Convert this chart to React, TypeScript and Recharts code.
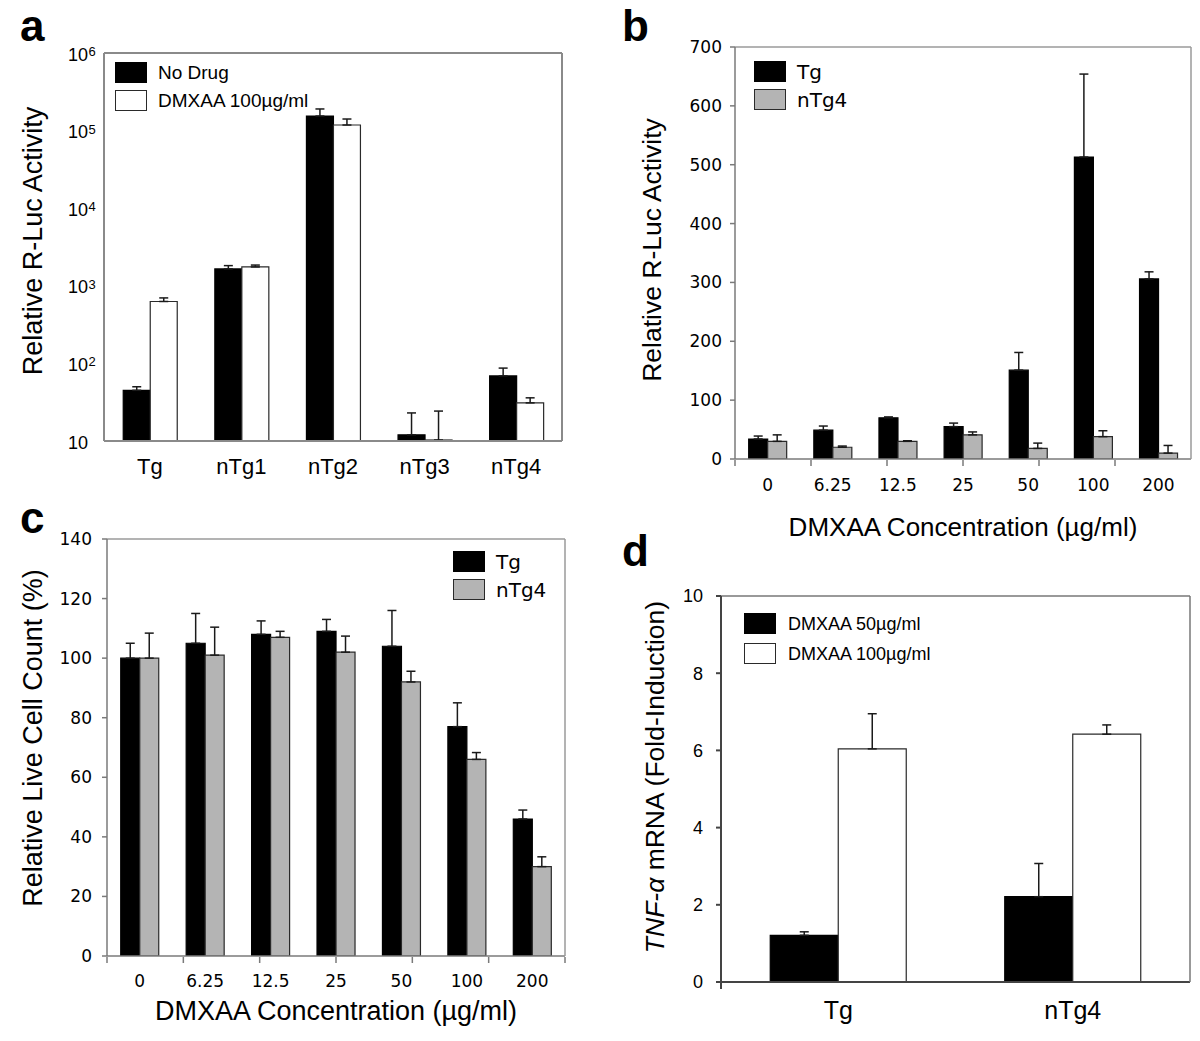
import React from "react";
import { BarChart, Bar, XAxis, YAxis, ErrorBar, Legend, Label } from "recharts";

const ARIAL = "'Liberation Sans', Arial, sans-serif";
const VERDANA = "'DejaVu Sans', Verdana, sans-serif";

// ---- panel a: R-Luc activity per line (log scale)
const lineNames = ["Tg", "nTg1", "nTg2", "nTg3", "nTg4"];
const noDrug = [45, 1650, 154000, 12, 69];
const noDrugSd = [5, 170, 36000, 11, 18];
const dmxaa100 = [628, 1750, 118000, 10.3, 31];
const dmxaa100Sd = [70, 100, 23000, 14, 5];
const logTicks = [10, 100, 1000, 10000, 100000, 1000000];

// ---- panels b & c: dose response
const concentrations = ["0", "6.25", "12.5", "25", "50", "100", "200"];
const lucTg = [34, 49, 70, 55, 151, 513, 306];
const lucTgSd = [5, 7, 1.5, 6, 30, 141, 12];
const lucNTg4 = [30, 20, 30, 41, 18, 38, 10];
const lucNTg4Sd = [11, 2, 1, 5, 9, 10, 13];
const lucTicks = [0, 100, 200, 300, 400, 500, 600, 700];

const liveTg = [100, 105, 108, 109, 104, 77, 46];
const liveTgSd = [5, 10, 4.5, 4, 12, 8, 3];
const liveNTg4 = [100, 101, 107, 102, 92, 66, 30];
const liveNTg4Sd = [8.4, 9.4, 2, 5.4, 3.6, 2.3, 3.3];
const liveTicks = [0, 20, 40, 60, 80, 100, 120, 140];

// ---- panel d: TNF-alpha induction
const tnfGroups = ["Tg", "nTg4"];
const tnf50 = [1.21, 2.21];
const tnf50Sd = [0.09, 0.86];
const tnf100 = [6.04, 6.42];
const tnf100Sd = [0.91, 0.24];
const tnfTicks = [0, 2, 4, 6, 8, 10];

type Row = Record<string, string | number | number[]>;

function buildRows(names: string[], series: { key: string; values: number[]; sd: number[] }[]): Row[] {
  return names.map((name, i) => {
    const row: Row = { name };
    series.forEach((s) => {
      row[s.key] = s.values[i];
      row[s.key + "Err"] = [0, s.sd[i]];
    });
    return row;
  });
}

const rowsA = buildRows(lineNames, [
  { key: "noDrug", values: noDrug, sd: noDrugSd },
  { key: "dmxaa", values: dmxaa100, sd: dmxaa100Sd },
]);
const rowsB = buildRows(concentrations, [
  { key: "tg", values: lucTg, sd: lucTgSd },
  { key: "ntg4", values: lucNTg4, sd: lucNTg4Sd },
]);
const rowsC = buildRows(concentrations, [
  { key: "tg", values: liveTg, sd: liveTgSd },
  { key: "ntg4", values: liveNTg4, sd: liveNTg4Sd },
]);
const rowsD = buildRows(tnfGroups, [
  { key: "d50", values: tnf50, sd: tnf50Sd },
  { key: "d100", values: tnf100, sd: tnf100Sd },
]);

const BLACK = { fill: "#000", stroke: "#000" };
const WHITE = { fill: "#fff", stroke: "#2a2a2a" };
const GRAY = { fill: "#b4b4b4", stroke: "#2a2a2a" };

function PowerTick(props: any) {
  const { x, y, payload } = props;
  const exp = Math.round(Math.log10(payload.value));
  return (
    <g>
      <text x={x} y={y} dy={7.5} textAnchor="end" fontFamily={ARIAL} fontSize={18} fill="#000">
        10
      </text>
      {exp > 1 && (
        <text x={x + 0.5} y={y} dy={3} textAnchor="start" fontFamily={ARIAL} fontSize={13} fill="#000">
          {exp}
        </text>
      )}
    </g>
  );
}

function CategoryTick(props: any) {
  const { x, y, payload, font, size, dy } = props;
  return (
    <text x={x} y={y + dy} textAnchor="middle" fontFamily={font} fontSize={size} fill="#000">
      {payload.value}
    </text>
  );
}

const Y_AXIS_W = 60;

interface SeriesStyle {
  key: string;
  name: string;
  fill: string;
  stroke: string;
}

interface PanelProps {
  box: { left: number; top: number; width: number; height: number };
  plot: { l: number; t: number; r: number; b: number };
  rows: Row[];
  series: SeriesStyle[];
  yScale?: "log" | "linear";
  yDomain: [number, number];
  yTicks: number[];
  yTick: any;
  yTickSize: number;
  yTickMargin: number;
  xTick: React.ReactElement;
  axis: { color: string; width: number };
  frame: { color: string; width: number };
  boundaryTicks: boolean;
  legend: { left: number; top: number; font: string; size: number; pitch: number; gap: number };
  yTitle: { x: number; y: number; size: number; content: React.ReactNode };
  xTitle?: { x: number; y: number; size: number; text: string };
}

function Panel(p: PanelProps) {
  const { box, plot } = p;
  const lx = (x: number) => x - box.left;
  const ly = (y: number) => y - box.top;
  // every helper axis is 1px thick (zero-size axes are not drawn)
  const bottomAxes = p.boundaryTicks ? 2 : 1;
  const margin = {
    top: plot.t - box.top - 1,
    bottom: box.top + box.height - plot.b - bottomAxes,
    left: plot.l - box.left - Y_AXIS_W,
    right: box.left + box.width - plot.r - 1,
  };
  const bounds = Array.from({ length: p.rows.length + 1 }, (_, i) => i);
  const axisStroke = { stroke: p.axis.color, strokeWidth: p.axis.width };
  const frameStroke = { stroke: p.frame.color, strokeWidth: p.frame.width };

  return (
    <div style={{ position: "absolute", left: box.left, top: box.top, width: box.width, height: box.height }}>
      <BarChart width={box.width} height={box.height} data={p.rows} margin={margin} barCategoryGap="21%" barGap={0}>
        <XAxis
          dataKey="name"
          height={1}
          tickSize={0}
          tickMargin={0}
          tickLine={false}
          interval={0}
          stroke={p.axis.color}
          axisLine={axisStroke}
          tick={p.xTick}
        >
          {p.xTitle && (
            <Label
              content={() => (
                <text
                  x={lx(p.xTitle!.x)}
                  y={ly(p.xTitle!.y)}
                  textAnchor="middle"
                  fontFamily={ARIAL}
                  fontSize={p.xTitle!.size}
                  fill="#000"
                >
                  {p.xTitle!.text}
                </text>
              )}
            />
          )}
        </XAxis>
        {p.boundaryTicks && (
          <XAxis
            xAxisId="bounds"
            type="number"
            domain={[0, p.rows.length]}
            ticks={bounds}
            allowDataOverflow
            height={1}
            stroke={p.axis.color}
            axisLine={false}
            tickLine={axisStroke}
            tickSize={6}
            tick={() => <g />}
          />
        )}
        <XAxis
          xAxisId="top"
          orientation="top"
          type="number"
          domain={[0, 1]}
          ticks={[0, 1]}
          allowDataOverflow
          height={1}
          stroke={p.frame.color}
          tick={() => <g />}
          tickLine={false}
          axisLine={frameStroke}
        />
        <YAxis
          width={Y_AXIS_W}
          type="number"
          scale={p.yScale ?? "linear"}
          domain={p.yDomain}
          ticks={p.yTicks}
          allowDataOverflow
          interval={0}
          stroke={p.axis.color}
          tickSize={p.yTickSize}
          tickMargin={p.yTickMargin}
          tickLine={p.yTickSize > 0 ? axisStroke : false}
          axisLine={axisStroke}
          tick={p.yTick}
        >
          <Label
            content={() => (
              <text
                x={lx(p.yTitle.x)}
                y={ly(p.yTitle.y)}
                transform={`rotate(-90 ${lx(p.yTitle.x)} ${ly(p.yTitle.y)})`}
                textAnchor="middle"
                fontFamily={ARIAL}
                fontSize={p.yTitle.size}
                fill="#000"
              >
                {p.yTitle.content}
              </text>
            )}
          />
        </YAxis>
        <YAxis
          yAxisId="right"
          orientation="right"
          type="number"
          domain={[0, 1]}
          ticks={[0, 1]}
          allowDataOverflow
          width={1}
          stroke={p.frame.color}
          tick={() => <g />}
          tickLine={false}
          axisLine={frameStroke}
        />
        <Legend
          layout="vertical"
          align="center"
          verticalAlign="middle"
          wrapperStyle={{ left: lx(p.legend.left), top: ly(p.legend.top), width: "auto", height: "auto" }}
          content={(props: any) => (
            <div>
              {p.series.map((s, i) => {
                const entry = (props.payload ?? []).find((e: any) => e.dataKey === s.key);
                return (
                  <div key={i} style={{ display: "flex", alignItems: "center", height: p.legend.pitch }}>
                    <span
                      style={{
                        display: "inline-block",
                        width: 32,
                        height: 21,
                        boxSizing: "border-box",
                        background: entry?.color ?? s.fill,
                        border: `1.5px solid ${s.stroke}`,
                      }}
                    />
                    <span
                      style={{
                        marginLeft: p.legend.gap,
                        fontFamily: p.legend.font,
                        fontSize: p.legend.size,
                        color: "#000",
                        whiteSpace: "nowrap",
                        lineHeight: 1,
                      }}
                    >
                      {entry?.value ?? s.name}
                    </span>
                  </div>
                );
              })}
            </div>
          )}
        />
        {p.series.map((s) => (
          <Bar
            key={s.key}
            dataKey={s.key}
            name={s.name}
            fill={s.fill}
            stroke={s.stroke}
            strokeWidth={1.2}
            isAnimationActive={false}
          >
            <ErrorBar dataKey={`${s.key}Err`} width={4.5} stroke="#1a1a1a" strokeWidth={1.5} direction="y" />
          </Bar>
        ))}
      </BarChart>
    </div>
  );
}

const letterStyle: React.CSSProperties = {
  position: "absolute",
  fontFamily: ARIAL,
  fontWeight: "bold",
  fontSize: 44,
  lineHeight: 1.117,
  color: "#000",
};

export default function App() {
  const verdanaTick = { fill: "#000", fontSize: 17, fontFamily: VERDANA };
  return (
    <div style={{ position: "absolute", left: 0, top: 0, width: 1200, height: 1041, background: "#fff" }}>
      <Panel
        box={{ left: 0, top: 0, width: 600, height: 500 }}
        plot={{ l: 104, t: 53, r: 562, b: 441 }}
        rows={rowsA}
        series={[
          { key: "noDrug", name: "No Drug", ...BLACK },
          { key: "dmxaa", name: "DMXAA 100\u00b5g/ml", ...WHITE },
        ]}
        yScale="log"
        yDomain={[10, 1000000]}
        yTicks={logTicks}
        yTick={<PowerTick />}
        yTickSize={0}
        yTickMargin={16}
        xTick={<CategoryTick font={ARIAL} size={22} dy={33} />}
        axis={{ color: "#8a8a8a", width: 2 }}
        frame={{ color: "#8a8a8a", width: 2 }}
        boundaryTicks={false}
        legend={{ left: 115, top: 58.5, font: ARIAL, size: 19, pitch: 28, gap: 11 }}
        yTitle={{ x: 42, y: 241, size: 27, content: "Relative R-Luc Activity" }}
      />
      <Panel
        box={{ left: 600, top: 0, width: 600, height: 560 }}
        plot={{ l: 735, t: 47, r: 1191, b: 459 }}
        rows={rowsB}
        series={[
          { key: "tg", name: "Tg", ...BLACK },
          { key: "ntg4", name: "nTg4", ...GRAY },
        ]}
        yDomain={[0, 700]}
        yTicks={lucTicks}
        yTick={verdanaTick}
        yTickSize={5}
        yTickMargin={8}
        xTick={<CategoryTick font={VERDANA} size={17} dy={32} />}
        axis={{ color: "#7a7a7a", width: 1.5 }}
        frame={{ color: "#9a9a9a", width: 1.5 }}
        boundaryTicks
        legend={{ left: 754, top: 57.5, font: VERDANA, size: 20, pitch: 28, gap: 11 }}
        yTitle={{ x: 661, y: 250, size: 26.5, content: "Relative R-Luc Activity" }}
        xTitle={{ x: 963, y: 536, size: 26, text: "DMXAA Concentration (\u00b5g/ml)" }}
      />
      <Panel
        box={{ left: 0, top: 500, width: 600, height: 541 }}
        plot={{ l: 107, t: 539, r: 565, b: 956 }}
        rows={rowsC}
        series={[
          { key: "tg", name: "Tg", ...BLACK },
          { key: "ntg4", name: "nTg4", ...GRAY },
        ]}
        yDomain={[0, 140]}
        yTicks={liveTicks}
        yTick={verdanaTick}
        yTickSize={5}
        yTickMargin={10}
        xTick={<CategoryTick font={VERDANA} size={17} dy={31} />}
        axis={{ color: "#7a7a7a", width: 1.5 }}
        frame={{ color: "#9a9a9a", width: 1.5 }}
        boundaryTicks
        legend={{ left: 453, top: 547.5, font: VERDANA, size: 20, pitch: 28, gap: 11 }}
        yTitle={{ x: 42, y: 738, size: 27, content: "Relative Live Cell Count (%)" }}
        xTitle={{ x: 336, y: 1020, size: 27, text: "DMXAA Concentration (\u00b5g/ml)" }}
      />
      <Panel
        box={{ left: 600, top: 560, width: 600, height: 481 }}
        plot={{ l: 721, t: 596, r: 1190, b: 982 }}
        rows={rowsD}
        series={[
          { key: "d50", name: "DMXAA 50\u00b5g/ml", ...BLACK },
          { key: "d100", name: "DMXAA 100\u00b5g/ml", ...WHITE },
        ]}
        yDomain={[0, 10]}
        yTicks={tnfTicks}
        yTick={{ fill: "#000", fontSize: 18, fontFamily: ARIAL }}
        yTickSize={5}
        yTickMargin={13}
        xTick={<CategoryTick font={ARIAL} size={25} dy={37} />}
        axis={{ color: "#444", width: 2 }}
        frame={{ color: "#777", width: 1.5 }}
        boundaryTicks
        legend={{ left: 744, top: 608.5, font: ARIAL, size: 18, pitch: 30, gap: 12 }}
        yTitle={{
          x: 664,
          y: 777,
          size: 26.5,
          content: (
            <>
              <tspan fontStyle="italic">TNF-&alpha;</tspan>
              {" mRNA (Fold-Induction)"}
            </>
          ),
        }}
      />
      <div style={{ ...letterStyle, left: 20, top: 0.5 }}>a</div>
      <div style={{ ...letterStyle, left: 622, top: 0.5 }}>b</div>
      <div style={{ ...letterStyle, left: 20, top: 493 }}>c</div>
      <div style={{ ...letterStyle, left: 622, top: 526 }}>d</div>
    </div>
  );
}
